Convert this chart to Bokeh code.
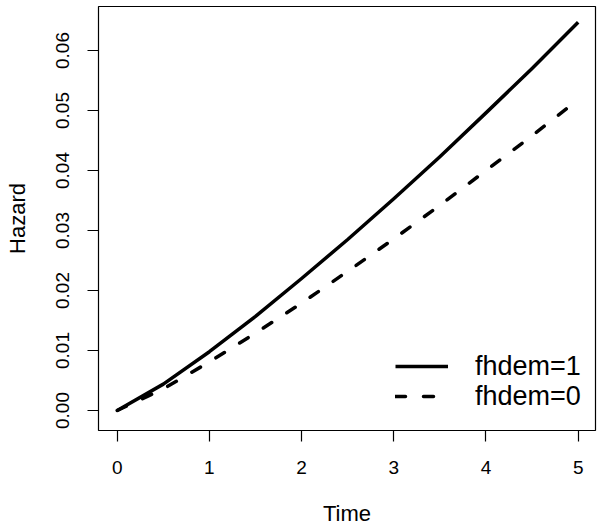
from bokeh.plotting import figure
from bokeh.models import (Range1d, FixedTicker, NumeralTickFormatter, Legend, LegendItem)
from bokeh.embed import file_html
from bokeh.resources import INLINE

# Data
time = [0, 0.5, 1, 1.5, 2, 2.5, 3, 3.5, 4, 4.5, 5]
hazard_fhdem1 = [0, 0.0044, 0.0098, 0.0157, 0.0220, 0.0285, 0.0353, 0.0423, 0.0496, 0.0570, 0.0647]
hazard_fhdem0 = [0, 0.0036, 0.0081, 0.0129, 0.0179, 0.0232, 0.0286, 0.0342, 0.0400, 0.0458, 0.0518]
x_ticks = [0, 1, 2, 3, 4, 5]
y_ticks = [0, 0.01, 0.02, 0.03, 0.04, 0.05, 0.06]
labels = ["fhdem=1", "fhdem=0"]
x_title = "Time"
y_title = "Hazard"

FONT = "Liberation Sans"

p = figure(output_backend="svg", toolbar_location=None,
           frame_width=497, frame_height=424,
           min_border_left=98, min_border_right=2, min_border_top=6, min_border_bottom=98,
           x_range=Range1d(-0.203, 5.188), y_range=Range1d(-0.00333, 0.06733))

p.background_fill_color = "white"
p.border_fill_color = "white"
p.outline_line_color = "black"
p.outline_line_width = 1.2
p.grid.visible = False

for ax in (p.xaxis[0], p.yaxis[0]):
    ax.axis_line_color = None
    ax.major_tick_in = 0
    ax.major_tick_out = 11
    ax.major_tick_line_color = "black"
    ax.major_tick_line_width = 1.2
    ax.minor_tick_line_color = None
    ax.major_label_text_font = FONT
    ax.major_label_text_font_size = "19px"
    ax.major_label_text_color = "black"
    ax.axis_label_text_font = FONT
    ax.axis_label_text_font_size = "22px"
    ax.axis_label_text_font_style = "normal"
    ax.axis_label_text_color = "black"

p.xaxis.ticker = FixedTicker(ticks=x_ticks)
p.yaxis.ticker = FixedTicker(ticks=y_ticks)
p.yaxis.formatter = NumeralTickFormatter(format="0.00")
p.yaxis.major_label_orientation = "vertical"
p.xaxis.axis_label = x_title
p.yaxis.axis_label = y_title
p.xaxis.major_label_standoff = 19
p.yaxis.major_label_standoff = 18
p.xaxis.axis_label_standoff = 24
p.yaxis.axis_label_standoff = 24

r1 = p.line(time, hazard_fhdem1, line_color="black", line_width=3.5, line_join="round")
r0 = p.line(time, hazard_fhdem0, line_color="black", line_width=3.5,
            line_dash="10 18", line_cap="round", line_join="round")


def make_legend(label, renderer, loc):
    lg = Legend(items=[LegendItem(label=label, renderers=[renderer])], location=loc)
    lg.border_line_color = None
    lg.background_fill_alpha = 0
    lg.padding = 0
    lg.margin = 0
    lg.spacing = 0
    lg.glyph_width = 53
    lg.glyph_height = 32
    lg.label_height = 32
    lg.label_standoff = 27
    lg.label_text_font = FONT
    lg.label_text_font_size = "27px"
    lg.label_text_color = "black"
    return lg


p.add_layout(make_legend(labels[0], r1, (297, 48)), "center")
p.add_layout(make_legend(labels[1], r0, (297, 18)), "center")

open("out.html", "w").write(file_html(p, INLINE))
